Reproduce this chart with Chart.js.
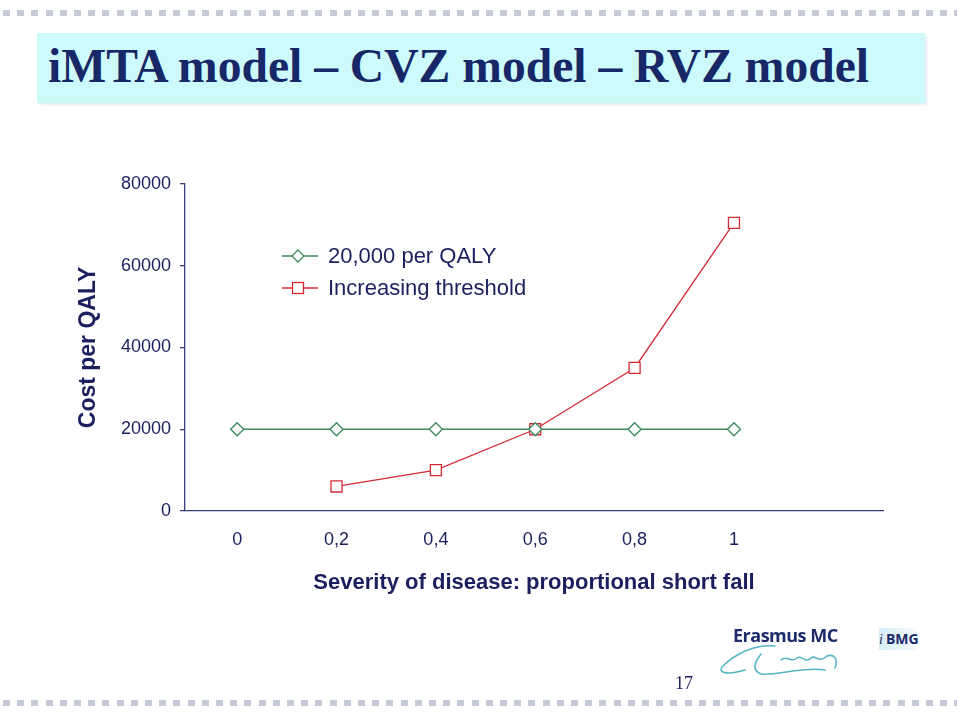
<!DOCTYPE html>
<html>
<head>
<meta charset="utf-8">
<script src="https://cdn.jsdelivr.net/npm/chart.js@4.4.1/dist/chart.umd.min.js"></script>
<style>
  html, body { margin: 0; padding: 0; background: #fff; }
  #slide { position: relative; width: 960px; height: 717px; overflow: hidden; background: #fff; }
  .dots { position: absolute; left: 3px; width: 954px; height: 6px;
    background: repeating-linear-gradient(90deg, #c6c9d8 0 7px, transparent 7px 14.2px); }
  #title { position: absolute; left: 37px; top: 33px; width: 888px; height: 70px; background: #cdfbfb;
    box-shadow: 2px 2px 2px #e4eef0; }
  #title span { position: absolute; left: 11px; top: 6px; font: bold 47.6px "Liberation Serif", serif; color: #172767; white-space: nowrap; }
  #chart { position: absolute; left: 0; top: 0; }
  #legend { position: absolute; left: 282px; top: 240px; font: 22px "Liberation Sans", Arial, sans-serif; color: #1b1f5e; }
  #legend div { height: 32px; display: flex; align-items: center; }
  #legend svg { margin-right: 10px; }
  #erasmus { position: absolute; left: 733px; top: 623px; font: bold 18px "Open Sans", sans-serif; color: #1d2b6b; letter-spacing: -0.5px; }
  #ibmg { position: absolute; left: 879px; top: 628px; width: 40px; height: 22px; background: linear-gradient(90deg, #d8eef7, #eef7fb 80%, #fff);
    font: bold 14px "Open Sans", sans-serif; color: #1d2b6b; line-height: 22px; }
  #ibmg i { font: italic 14px "Liberation Serif", serif; margin: 0 3px 0 0; }
  #page { position: absolute; left: 675px; top: 673px; font: 18px "Liberation Serif", serif; color: #1b1f5e; }
</style>
</head>
<body>
<div id="slide">
  <div class="dots" style="top:10px"></div>
  <div class="dots" style="top:700px"></div>
  <div id="title"><span>iMTA model – CVZ model – RVZ model</span></div>
  <canvas id="chart" width="960" height="717"></canvas>
  <div id="legend">
    <div><svg width="36" height="16"><line x1="0" y1="8" x2="36" y2="8" stroke="#3d8a5c" stroke-width="1.3"/><path d="M16 2 L22 8 L16 14 L10 8 Z" fill="#fff" stroke="#3d8a5c" stroke-width="1.3"/></svg>20,000 per QALY</div>
    <div><svg width="36" height="16"><line x1="0" y1="8" x2="36" y2="8" stroke="#d42a36" stroke-width="1.3"/><rect x="10.5" y="2.5" width="11" height="11" fill="#fff" stroke="#d42a36" stroke-width="1.3"/></svg>Increasing threshold</div>
  </div>
  <div id="erasmus">Erasmus MC</div>
  <svg style="position:absolute;left:715px;top:640px" width="135" height="42">
    <path d="M60 6 C40 4 20 14 8 26 C2 32 10 36 30 30 M46 14 C40 22 36 30 46 34 C60 36 90 26 110 30 M66 20 C72 14 76 24 82 18 C86 14 90 24 96 18 C100 14 104 24 112 16 C118 14 124 18 120 28"
      fill="none" stroke="#57b5c6" stroke-width="1.6" stroke-linecap="round"/>
  </svg>
  <div id="ibmg"><i>i</i>BMG</div>
  <div id="page">17</div>
</div>
<script>
const X_VALUES = [0, 0.2, 0.4, 0.6, 0.8, 1];
const X_TICKS = [0, 0.2, 0.4, 0.6, 0.8, 1];
const Y_TICKS = [0, 20000, 40000, 60000, 80000];
const FLAT_20000 = [20000, 20000, 20000, 20000, 20000, 20000];
const INCREASING = [null, 6000, 10000, 20000, 35000, 70500];

const NAVY = "#1b1f5e";
const AXIS = "#3a3f7e";
const GREEN = "#3d8a5c";
const RED = "#d42a36";

const toPoints = (vals) => X_VALUES.map((x, i) => ({ x, y: vals[i] })).filter(p => p.y !== null);

new Chart(document.getElementById("chart"), {
  type: "line",
  data: {
    datasets: [
      { label: "20,000 per QALY", data: toPoints(FLAT_20000), borderColor: GREEN, backgroundColor: "#fff",
        borderWidth: 1.3, pointStyle: "rectRot", pointRadius: 6.5, pointBorderWidth: 1.3 },
      { label: "Increasing threshold", data: toPoints(INCREASING), borderColor: RED, backgroundColor: "#fff",
        borderWidth: 1.3, pointStyle: "rect", pointRadius: 7.8, pointBorderWidth: 1.3 }
    ]
  },
  options: {
    responsive: false,
    animation: false,
    layout: { padding: { left: 71, top: 184, right: 77, bottom: 117 } },
    plugins: { legend: { display: false }, tooltip: { enabled: false } },
    scales: {
      x: {
        type: "linear", min: -0.105, max: 1.3,
        afterBuildTicks: (s) => { s.ticks = X_TICKS.map(v => ({ value: v })); },
        afterFit: (s) => { s.height = 89; },
        grid: { display: false },
        border: { color: AXIS, width: 1.3 },
        ticks: { color: NAVY, padding: 10, font: { family: "Liberation Sans", size: 18 },
          callback: (v) => String(Math.round(v * 10) / 10).replace(".", ",") },
        title: { display: true, text: "Severity of disease: proportional short fall", color: NAVY,
          font: { family: "Liberation Sans", size: 22, weight: "bold" }, padding: { top: 0, bottom: 4 } }
      },
      y: {
        min: 0, max: 80000,
        afterBuildTicks: (s) => { s.ticks = Y_TICKS.map(v => ({ value: v })); },
        afterFit: (s) => { s.width = 114; },
        grid: { drawOnChartArea: false, color: AXIS, tickLength: 5, lineWidth: 1.3 },
        border: { color: AXIS, width: 1.3 },
        ticks: { color: NAVY, padding: 9, font: { family: "Liberation Sans", size: 18 },
          callback: (v) => String(v) },
        title: { display: true, text: "Cost per QALY", color: NAVY,
          font: { family: "Liberation Sans", size: 23, weight: "bold" }, padding: { top: 4, bottom: 0 } }
      }
    }
  }
});
</script>
</body>
</html>
